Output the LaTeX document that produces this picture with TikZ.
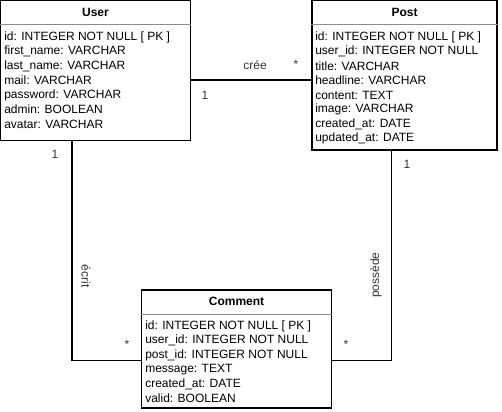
\documentclass[tikz,border=0pt]{standalone}
\usepackage{fontspec}
\setmainfont{Liberation Sans}
\begin{document}
\begin{tikzpicture}[x=0.75pt,y=-0.75pt,
  tbl/.style={draw=black, line width=0.8pt, inner sep=0pt},
  sep/.style={draw=black!45, line width=0.75pt},
  conn/.style={draw=black, line width=0.8pt},
  hdr/.style={font=\fontsize{9}{10.8}\selectfont\bfseries, inner sep=0pt},
  attr/.style={font=\fontsize{9}{10.8}\selectfont, anchor=west, inner sep=0pt},
  lbl/.style={font=\fontsize{9}{10.8}\selectfont, inner sep=0pt, text=black!80}]
\useasboundingbox (0,0) rectangle (502,411);
% User
\node[tbl, minimum width=142.5pt, minimum height=105pt] (user) at (95.5,70.5) {};
\draw[sep] (user.west |- 0,24) -- (user.east |- 0,24);
\node[hdr] (userh) at (95.5,12) {User};
\foreach \t [count=\i] in {id: INTEGER NOT NULL [ PK ], first\_name: VARCHAR, last\_name: VARCHAR, mail: VARCHAR, password: VARCHAR, admin: BOOLEAN, avatar: VARCHAR}
  \node[attr] (u\i) at (4,{37+14.5*(\i-1)}) {\t};
% Post
\node[tbl, minimum width=138.75pt, minimum height=112.125pt] (post) at (404.5,75.25) {};
\draw[sep] (post.west |- 0,24) -- (post.east |- 0,24);
\node[hdr] (posth) at (404.5,12) {Post};
\foreach \t [count=\i] in {id: INTEGER NOT NULL [ PK ], user\_id: INTEGER NOT NULL, title: VARCHAR, headline: VARCHAR, content: TEXT, image: VARCHAR, created\_at: DATE, updated\_at: DATE}
  \node[attr] (p\i) at (315,{37+14.5*(\i-1)}) {\t};
% Comment
\node[tbl, minimum width=142.5pt, minimum height=88.5pt] (comment) at (236.5,349) {};
\draw[sep] (comment.west |- 0,314) -- (comment.east |- 0,314);
\node[hdr] (commenth) at (236.5,301) {Comment};
\foreach \t [count=\i] in {id: INTEGER NOT NULL [ PK ], user\_id: INTEGER NOT NULL, post\_id: INTEGER NOT NULL, message: TEXT, created\_at: DATE, valid: BOOLEAN}
  \node[attr] (c\i) at (145,{326+14.5*(\i-1)}) {\t};
% connectors
\draw[conn] (user.east |- 0,80) -- (post.west |- 0,80);
\coordinate (ec) at (72,360.5);
\draw[conn] (user.south -| ec) -- (ec) -- (comment.west |- ec);
\coordinate (pc) at (391.5,360.5);
\draw[conn] (post.south -| pc) -- (pc) -- (comment.east |- pc);
% labels
\node[lbl] (l1) at (255,65) {crée};
\node[lbl] (l2) at (296,64) {*};
\node[lbl] (l3) at (205,95) {1};
\node[lbl] (l4) at (55,154) {1};
\node[lbl, rotate=-90] (l5) at (86,276) {écrit};
\node[lbl] (l6) at (127,344) {*};
\node[lbl] (l7) at (407,164) {1};
\node[lbl, rotate=90] (l8) at (376,275) {possède};
\node[lbl] (l9) at (346,344) {*};
\end{tikzpicture}
\end{document}
